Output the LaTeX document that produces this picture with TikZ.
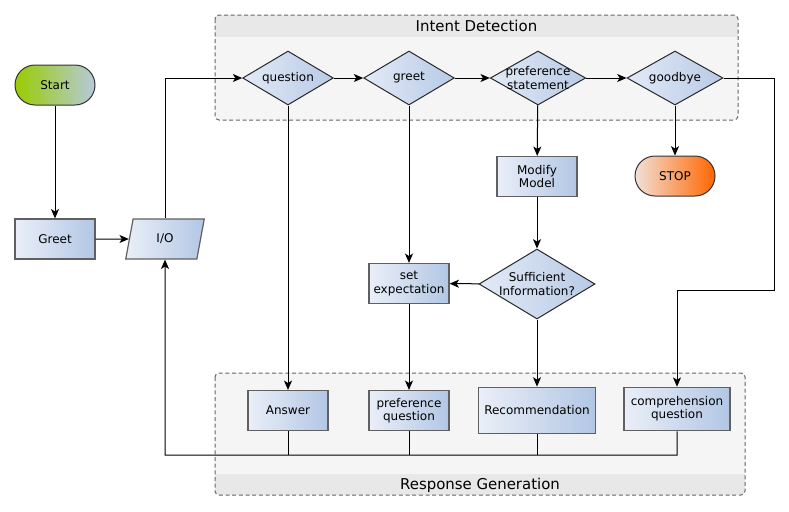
\documentclass[tikz,border=0pt]{standalone}
\usepackage{fontspec}
\setmainfont{DejaVu Sans}
\usepackage{tikz}
\usetikzlibrary{shapes,arrows,arrows.meta}
\usepackage{xcolor}
\definecolor{boxleft}{RGB}{234,239,248}
\definecolor{boxright}{RGB}{178,198,228}
\definecolor{boxline}{RGB}{96,96,96}
\definecolor{decleft}{RGB}{226,234,246}
\definecolor{decright}{RGB}{184,202,230}
\definecolor{decline}{RGB}{40,40,40}
\definecolor{startleft}{RGB}{153,204,0}
\definecolor{startright}{RGB}{182,202,220}
\definecolor{stopleft}{RGB}{242,224,214}
\definecolor{stopright}{RGB}{255,102,0}
\definecolor{groupfill}{RGB}{245,245,245}
\definecolor{groupband}{RGB}{232,232,232}
\definecolor{groupline}{RGB}{100,100,100}

\begin{document}
\begin{tikzpicture}[x=0.75pt,y=-0.75pt,>={Stealth[length=7pt,width=6pt,inset=1.8pt]},font=\fontsize{9}{10}\selectfont]
    \tikzstyle{block} = [draw=boxline, shape=rectangle, left color=boxleft, right color=boxright, minimum height=30pt, minimum width=60pt, align=center, line width=0.9pt]
    \tikzstyle{decision} = [draw=decline, shape=diamond, left color=decleft, right color=decright, minimum height=40.5pt, minimum width=68pt, inner sep=-2.5pt, align=center, line width=0.75pt]
    \tikzstyle{terminal} = [draw=black!80, shape=rectangle, rounded corners=15pt, minimum height=30pt, minimum width=60pt, line width=0.75pt]
    \tikzstyle{inout} = [draw=boxline, shape=trapezium, trapezium left angle=81, trapezium right angle=99, trapezium stretches=true, left color=boxleft, right color=boxright, minimum height=30pt, minimum width=59pt, line width=0.9pt]
    \tikzstyle{group} = [draw=groupline, dashed, dash pattern=on 3pt off 2pt, rounded corners=3pt, line width=0.75pt]
    \tikzstyle{grouptitle} = [font=\fontsize{11.2}{13}\selectfont]
    \tikzstyle{line} = [draw, line width=0.75pt]
    \useasboundingbox (0,0) rectangle (789,511);
    %Grouping Areas
    \begin{scope}
        \clip[rounded corners=3pt] (215,15) rectangle (738,120);
        \fill[groupfill] (215,15) rectangle (738,120);
        \fill[groupband] (215,15) rectangle (738,37);
    \end{scope}
    \draw[group] (215,15) rectangle (738,120);
    \node [grouptitle] at (476.5,26) (intenttitle) {Intent Detection};
    \begin{scope}
        \clip[rounded corners=3pt] (215,373) rectangle (745,495);
        \fill[groupfill] (215,373) rectangle (745,495);
        \fill[groupband] (215,474) rectangle (745,495);
    \end{scope}
    \draw[group] (215,373) rectangle (745,495);
    \node [grouptitle] at (480,485) (responsetitle) {Response Generation};
    %Creating Blocks and Connection Nodes
    \node [terminal, left color=startleft, right color=startright] at (55,85) (start) {Start};
    \node [block] at (55,239) (greet) {Greet};
    \node [inout] at (165,239) (io) {I/O};
    \node [decision] at (288,78) (question) {question};
    \node [decision] at (409,78) (greetint) {greet};
    \node [decision, minimum width=71.5pt, inner sep=-7pt] at (538,78) (prefstmt) {preference\\statement};
    \node [decision, minimum width=72pt] at (675,78) (goodbye) {goodbye};
    \node [block] at (537,176.5) (modify) {Modify\\Model};
    \node [terminal, left color=stopleft, right color=stopright] at (675,176) (stop) {STOP};
    \node [decision, minimum width=87pt, minimum height=52.5pt, inner sep=-6pt] at (537,284) (sufficient) {Sufficient\\Information?};
    \node [block] at (409,283.5) (setexp) {set\\expectation};
    \node [block] at (288,410.5) (answer) {Answer};
    \node [block] at (409,410.5) (prefq) {preference\\question};
    \node [block, minimum width=87.5pt, minimum height=35pt] at (537,410.5) (recom) {Recommendation};
    \node [block, minimum width=79.5pt, minimum height=32.5pt] at (677,409) (comp) {comprehension\\question};
    \coordinate (gbturn) at (774,290);
    \coordinate (feedback) at (165,455);
    %Conecting Blocks
    \begin{scope}[line width=0.75pt]
        \draw[->] (start) -- (greet);
        \draw[->] (greet) -- (io);
        \draw[->] (io.north) |- (question.west);
        \draw[->] (question) -- (greetint);
        \draw[->] (greetint) -- (prefstmt);
        \draw[->] (prefstmt) -- (goodbye);
        \draw[->] (goodbye) -- (stop);
        \draw[->] (goodbye.east) -| (gbturn) -| (comp.north);
        \draw[->] (prefstmt) -- (modify);
        \draw[->] (modify) -- (sufficient);
        \draw[->] (sufficient) -- (setexp);
        \draw[->] (sufficient) -- (recom);
        \draw[->] (greetint) -- (setexp);
        \draw[->] (setexp) -- (prefq);
        \draw[->] (question) -- (answer);
        \draw[->] (comp.south) |- (feedback) -- (io.south);
        \draw (answer.south) -- (answer.south |- feedback);
        \draw (prefq.south) -- (prefq.south |- feedback);
        \draw (recom.south) -- (recom.south |- feedback);
    \end{scope}
\end{tikzpicture}
\end{document}
